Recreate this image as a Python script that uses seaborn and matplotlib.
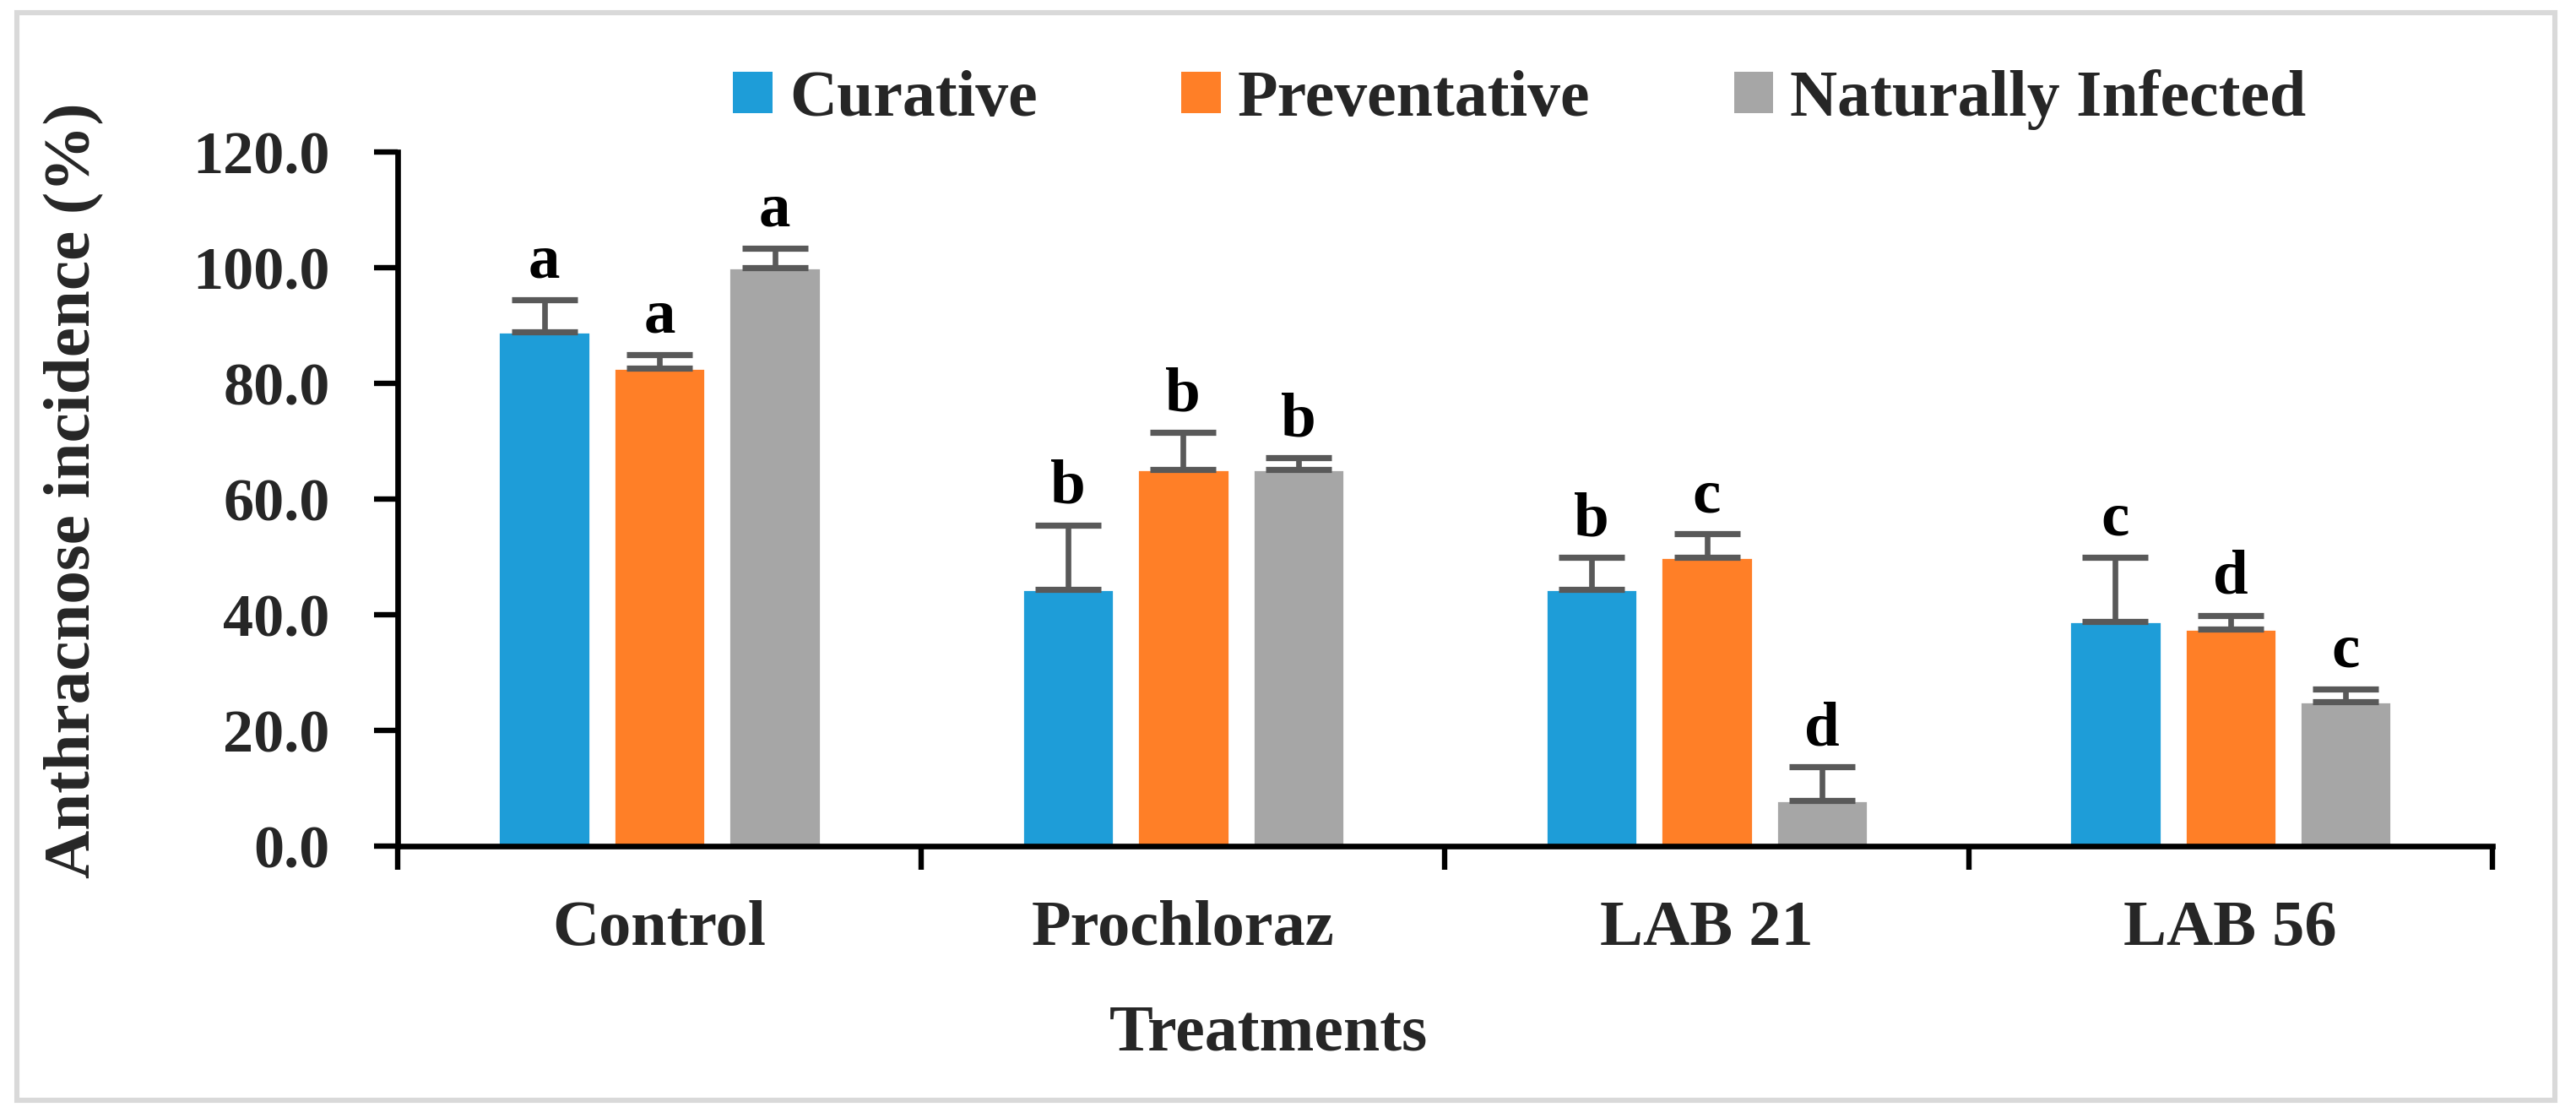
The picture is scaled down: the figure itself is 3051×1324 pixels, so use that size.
import pandas as pd
import numpy as np
import matplotlib
matplotlib.use('Agg')
import matplotlib.pyplot as plt
import seaborn as sns
from matplotlib.patches import Rectangle, Patch

# Data
treatments = ['Control', 'Prochloraz', 'LAB 21', 'LAB 56']
applications = ['Curative', 'Preventative', 'Naturally Infected']
curative = [88.9, 44.4, 44.4, 38.9]
preventative = [82.6, 65.1, 50.0, 37.5]
natural = [100.0, 65.1, 7.9, 25.0]
err_curative = [5.6, 11.1, 5.5, 11.1]
err_preventative = [2.4, 6.4, 4.0, 2.4]
err_natural = [3.4, 2.0, 5.8, 2.2]
letters_curative = ['a', 'b', 'b', 'c']
letters_preventative = ['a', 'b', 'c', 'd']
letters_natural = ['a', 'b', 'd', 'c']
yticks = [0, 20, 40, 60, 80, 100, 120]

colors = ['#1E9DD8', '#FF7F27', '#A6A6A6']

sns.set_style('ticks')
plt.rcParams['font.family'] = ['Liberation Serif', 'DejaVu Serif']
plt.rcParams['font.weight'] = 'bold'
plt.rcParams['axes.labelweight'] = 'bold'

rows = []
for app, vals in zip(applications, [curative, preventative, natural]):
    for t, v in zip(treatments, vals):
        rows.append({'Treatment': t, 'Application': app, 'Incidence': v})
df = pd.DataFrame(rows)

fig = plt.figure(figsize=(15.255, 6.62), dpi=200)
ax = fig.add_axes([0.1544, 0.2432, 0.8131, 0.6208])

sns.barplot(data=df, x='Treatment', y='Incidence', hue='Application',
            palette=colors, width=0.66, gap=0.205, errorbar=None,
            saturation=1, legend=False, ax=ax, zorder=2)

# error bars (upper only) and significance letters
errs = [err_curative, err_preventative, err_natural]
letters = [letters_curative, letters_preventative, letters_natural]
for cont, err, lets in zip(ax.containers, errs, letters):
    xs = [p.get_x() + p.get_width() / 2 for p in cont.patches]
    hs = [p.get_height() for p in cont.patches]
    ax.errorbar(xs, hs, yerr=[np.zeros(len(err)), err], fmt='none',
                ecolor='#595959', elinewidth=2.4, capsize=14, capthick=2.6,
                zorder=3)
    for x, h, e, l in zip(xs, hs, err, lets):
        ax.text(x, h + e + 3.8, l, ha='center', va='baseline',
                fontsize=27, fontweight='bold', color='black')

ax.set_xlim(-0.5, 3.5)
ax.set_ylim(0, 120)
ax.set_yticks(yticks)
ax.set_yticklabels([f'{v:.1f}' for v in yticks])

# category boundaries as major ticks, labels on minor ticks
ax.set_xticks([-0.5, 0.5, 1.5, 2.5, 3.5])
ax.set_xticklabels([])
ax.set_xticks(range(len(treatments)), minor=True)
ax.set_xticklabels(treatments, minor=True)
ax.tick_params(axis='x', which='major', direction='out', length=10, width=2.3, color='black')
ax.tick_params(axis='x', which='minor', length=0, pad=23, labelsize=27.5)
ax.tick_params(axis='y', direction='out', length=10, width=2.3, color='black',
               pad=19, labelsize=26)

for s in ['top', 'right']:
    ax.spines[s].set_visible(False)
for s in ['left', 'bottom']:
    ax.spines[s].set_linewidth(2.4)
    ax.spines[s].set_color('black')
    ax.spines[s].set_zorder(4)

ax.set_xlabel('Treatments', fontsize=28, fontweight='bold')
ax.set_ylabel('Anthracnose incidence (%)', fontsize=28.5, fontweight='bold')
ax.xaxis.set_label_coords(0.4156, -0.228)
ax.yaxis.set_label_coords(-0.14, 0.512)

handles = [Patch(facecolor=c, edgecolor='none') for c in colors]
fig.legend(handles, applications, loc='center left', ncol=3, frameon=False,
           bbox_to_anchor=(868 / 3051, 1 - 118 / 1324),
           handlelength=0.6, handleheight=0.6, handletextpad=0.26,
           columnspacing=2.19, borderpad=0, borderaxespad=0,
           prop={'weight': 'bold', 'size': 28})

# light grey frame around the figure
fig.patches.append(Rectangle((20 / 3051, 1 - 1303 / 1324), 3006 / 3051, 1288 / 1324,
                             transform=fig.transFigure, fill=False,
                             edgecolor='#D9D9D9', linewidth=2.2, zorder=0))

fig.savefig('out.png', dpi=200, facecolor='white')
